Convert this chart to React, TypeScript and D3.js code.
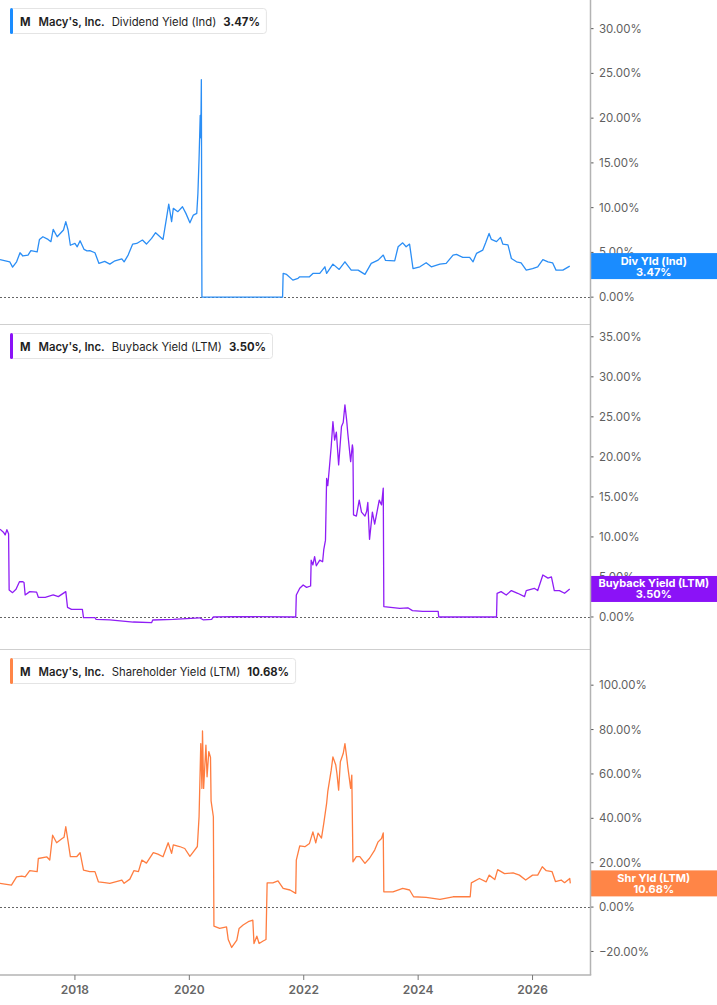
import React, { useEffect, useRef } from 'react';
import * as d3 from 'd3';

type Pt = [number, number];

const YEAR_TICKS = [2018, 2020, 2022, 2024, 2026];
const DIV_TICKS = [0, 5, 10, 15, 20, 25, 30];
const BUY_TICKS = [0, 5, 10, 15, 20, 25, 30, 35];
const SHR_TICKS = [-20, 0, 20, 40, 60, 80, 100];

// [decimal year, yield %]
const DIVIDEND_YIELD: Pt[] = [
  [2016.69, 4.2], [2016.86, 3.95], [2016.91, 3.35], [2016.98, 3.95], [2017.04, 4.96], [2017.09, 4.6],
  [2017.18, 4.7], [2017.23, 5.2], [2017.34, 5.07], [2017.38, 6.45], [2017.44, 6.75], [2017.53, 6.45],
  [2017.58, 6.2], [2017.62, 7.57], [2017.69, 6.75], [2017.8, 7.5], [2017.84, 8.43], [2017.88, 7.5],
  [2017.92, 5.8], [2018.0, 6.0], [2018.04, 5.63], [2018.09, 6.3], [2018.16, 5.33], [2018.21, 5.18],
  [2018.26, 5.2], [2018.35, 4.96], [2018.42, 3.77], [2018.52, 4.0], [2018.61, 3.69], [2018.7, 4.06],
  [2018.82, 4.28], [2018.86, 3.95], [2018.93, 4.7], [2019.01, 5.93], [2019.08, 6.0], [2019.18, 6.38],
  [2019.25, 5.93], [2019.34, 6.56], [2019.41, 7.2], [2019.54, 6.45], [2019.6, 8.8], [2019.64, 10.4],
  [2019.69, 8.43], [2019.72, 9.92], [2019.8, 9.55], [2019.88, 10.1], [2019.94, 9.36], [2020.01, 8.3],
  [2020.07, 9.17], [2020.13, 9.36], [2020.15, 11.6], [2020.17, 15.5], [2020.19, 20.3], [2020.2, 17.8],
  [2020.21, 24.3], [2020.22, 0], [2021.63, 0], [2021.64, 2.65], [2021.7, 2.54], [2021.81, 1.9],
  [2021.9, 2.1], [2021.93, 2.27], [2022.1, 2.27], [2022.16, 2.65], [2022.28, 2.65], [2022.37, 3.39],
  [2022.4, 2.65], [2022.51, 3.69], [2022.62, 3.1], [2022.72, 3.95], [2022.83, 3.02], [2022.95, 3.02],
  [2023.07, 2.54], [2023.18, 3.77], [2023.3, 4.14], [2023.39, 4.7], [2023.43, 4.1], [2023.59, 4.06],
  [2023.65, 5.63], [2023.73, 6.07], [2023.79, 5.63], [2023.85, 5.93], [2023.91, 3.2], [2024.03, 3.39],
  [2024.14, 3.84], [2024.23, 3.39], [2024.38, 3.69], [2024.49, 3.77], [2024.61, 4.7], [2024.67, 4.77],
  [2024.78, 4.44], [2024.9, 4.44], [2024.96, 3.95], [2025.02, 4.89], [2025.13, 5.26], [2025.18, 6.07],
  [2025.24, 7.12], [2025.28, 6.45], [2025.37, 6.2], [2025.44, 6.68], [2025.48, 5.93], [2025.57, 5.85],
  [2025.63, 4.32], [2025.72, 3.95], [2025.8, 3.84], [2025.89, 3.02], [2026.0, 3.2], [2026.09, 3.39],
  [2026.18, 4.2], [2026.27, 3.95], [2026.35, 3.84], [2026.41, 3.02], [2026.53, 3.02], [2026.59, 3.24],
  [2026.65, 3.47],
];

const BUYBACK_YIELD: Pt[] = [
  [2016.69, 10.96], [2016.75, 10.6], [2016.78, 10.25], [2016.81, 10.9], [2016.84, 10.4], [2016.85, 3.37],
  [2016.91, 3.04], [2016.97, 3.46], [2017.03, 4.4], [2017.09, 4.4], [2017.11, 4.3], [2017.13, 2.75],
  [2017.21, 3.17], [2017.33, 3.1], [2017.36, 2.46], [2017.48, 2.46], [2017.62, 2.75], [2017.71, 2.54],
  [2017.84, 3.17], [2017.87, 1.21], [2017.94, 0.96], [2018.13, 0.96], [2018.15, -0.08], [2018.35, -0.08],
  [2018.37, -0.3], [2018.61, -0.35], [2019.02, -0.63], [2019.34, -0.71], [2019.36, -0.38], [2019.72, -0.3],
  [2020.18, -0.1], [2020.24, -0.35], [2020.39, -0.3], [2020.42, 0.0], [2020.76, 0.05], [2021.86, 0.0],
  [2021.87, 2.75], [2021.93, 3.58], [2021.99, 4.0], [2022.05, 3.7], [2022.12, 3.87], [2022.13, 7.1],
  [2022.16, 6.5], [2022.19, 7.54], [2022.22, 6.4], [2022.28, 7.1], [2022.33, 6.9], [2022.35, 8.4],
  [2022.38, 9.6], [2022.4, 17.3], [2022.42, 16.4], [2022.45, 18.8], [2022.48, 21.3], [2022.51, 24.4],
  [2022.54, 22.1], [2022.57, 23.1], [2022.61, 19.0], [2022.66, 23.8], [2022.69, 24.3], [2022.72, 26.5],
  [2022.75, 24.6], [2022.77, 22.96], [2022.82, 19.4], [2022.85, 21.5], [2022.86, 21.0], [2022.87, 12.75],
  [2022.92, 12.6], [2022.97, 14.6], [2023.01, 13.1], [2023.07, 12.6], [2023.1, 13.2], [2023.12, 14.3],
  [2023.15, 9.7], [2023.2, 13.1], [2023.24, 11.6], [2023.28, 13.1], [2023.32, 14.6], [2023.36, 14.0],
  [2023.39, 16.1], [2023.4, 1.3], [2023.68, 1.08], [2023.82, 1.15], [2023.9, 0.8], [2024.08, 0.7],
  [2024.35, 0.7], [2024.36, 0], [2025.37, 0], [2025.38, 2.96], [2025.45, 3.17], [2025.54, 2.75],
  [2025.63, 3.3], [2025.74, 2.96], [2025.86, 2.54], [2025.89, 3.3], [2026.03, 3.58], [2026.09, 3.3],
  [2026.18, 5.25], [2026.27, 4.85], [2026.33, 5.0], [2026.38, 3.3], [2026.47, 3.3], [2026.56, 2.96],
  [2026.65, 3.5],
];

const SHAREHOLDER_YIELD: Pt[] = [
  [2016.69, 10.7], [2016.89, 9.9], [2016.98, 13.6], [2017.07, 14.0], [2017.13, 13.6], [2017.21, 16.4],
  [2017.34, 16.0], [2017.36, 21.9], [2017.51, 22.6], [2017.56, 21.2], [2017.61, 32.4], [2017.68, 29.0],
  [2017.77, 30.8], [2017.81, 31.5], [2017.84, 36.2], [2017.88, 29.6], [2017.92, 22.7], [2018.03, 22.7],
  [2018.09, 24.5], [2018.15, 16.7], [2018.26, 16.0], [2018.35, 16.0], [2018.41, 11.4], [2018.52, 11.0],
  [2018.61, 10.7], [2018.82, 12.2], [2018.86, 10.7], [2018.96, 12.6], [2019.03, 16.4], [2019.11, 16.0],
  [2019.17, 21.2], [2019.25, 19.8], [2019.37, 24.5], [2019.45, 23.9], [2019.54, 22.7], [2019.63, 29.0],
  [2019.69, 24.2], [2019.72, 28.0], [2019.83, 27.3], [2019.92, 26.4], [2020.01, 22.9], [2020.07, 24.9],
  [2020.14, 27.3], [2020.17, 40.7], [2020.2, 73.7], [2020.22, 53.5], [2020.23, 79.4], [2020.25, 53.5],
  [2020.29, 73.0], [2020.31, 58.7], [2020.34, 70.1], [2020.37, 67.4], [2020.38, 47.9], [2020.42, 40.7],
  [2020.43, -8.6], [2020.53, -9.6], [2020.65, -8.9], [2020.68, -14.6], [2020.74, -18.2], [2020.79, -16.4],
  [2020.83, -14.9], [2020.87, -9.6], [2020.94, -8.1], [2021.03, -6.6], [2021.11, -5.9], [2021.13, -16.4],
  [2021.18, -13.1], [2021.22, -16.4], [2021.29, -15.3], [2021.34, -14.6], [2021.36, 10.9], [2021.46, 10.9],
  [2021.55, 11.8], [2021.64, 8.4], [2021.76, 7.7], [2021.86, 6.2], [2021.87, 21.2], [2021.93, 27.6],
  [2022.02, 27.2], [2022.1, 28.7], [2022.16, 33.9], [2022.21, 28.9], [2022.25, 33.3], [2022.31, 31.1],
  [2022.35, 37.7], [2022.4, 46.7], [2022.42, 52.0], [2022.48, 61.7], [2022.51, 67.7], [2022.56, 64.0],
  [2022.58, 60.2], [2022.61, 52.7], [2022.64, 65.5], [2022.69, 69.2], [2022.72, 73.7], [2022.75, 67.7],
  [2022.77, 63.2], [2022.82, 53.5], [2022.84, 59.5], [2022.86, 20.4], [2022.92, 22.7], [2022.98, 22.7],
  [2023.07, 19.7], [2023.15, 22.0], [2023.24, 25.7], [2023.3, 29.4], [2023.36, 30.9], [2023.39, 33.4],
  [2023.4, 6.9], [2023.56, 6.9], [2023.73, 8.4], [2023.85, 7.7], [2023.92, 4.65], [2024.14, 4.35],
  [2024.38, 3.5], [2024.61, 4.65], [2024.91, 4.65], [2024.93, 10.9], [2025.07, 12.9], [2025.19, 11.4],
  [2025.24, 14.4], [2025.34, 12.4], [2025.39, 16.9], [2025.51, 15.1], [2025.66, 15.4], [2025.77, 14.4],
  [2025.88, 12.2], [2026.0, 14.4], [2026.09, 14.4], [2026.17, 18.2], [2026.24, 16.4], [2026.34, 16.0],
  [2026.4, 11.5], [2026.5, 12.2], [2026.56, 11.0], [2026.65, 12.9], [2026.66, 10.68],
];

const PANELS = [
  { metric: 'Dividend Yield (Ind)', badge: 'Div Yld (Ind)', last: '3.47%', color: '#1a8cff', line: '#2b8ef5', data: DIVIDEND_YIELD, ticks: DIV_TICKS, domain: [-3.0, 33.2], top: 0, bottom: 324 },
  { metric: 'Buyback Yield (LTM)', badge: 'Buyback Yield (LTM)', last: '3.50%', color: '#8b12f7', line: '#8f1df5', data: BUYBACK_YIELD, ticks: BUY_TICKS, domain: [-4.0, 36.6], top: 324, bottom: 649 },
  { metric: 'Shareholder Yield (LTM)', badge: 'Shr Yld (LTM)', last: '10.68%', color: '#ff8547', line: '#ff7d40', data: SHAREHOLDER_YIELD, ticks: SHR_TICKS, domain: [-30.6, 116.3], top: 649, bottom: 975 },
];

const W = 717;
const H = 1005;
const AXIS_X = 590.5;
const FONT = 'Inter, "Noto Sans", sans-serif';

export default function App() {
  const svgRef = useRef<SVGSVGElement>(null);

  useEffect(() => {
    document.body.style.margin = '0';
    if (!svgRef.current) return;
    const svg = d3.select(svgRef.current);
    svg.selectAll('*').remove();

    const x = d3.scaleLinear().domain([2016.69, 2027.013]).range([0, AXIS_X]);

    PANELS.forEach((p, i) => {
      const y = d3.scaleLinear().domain(p.domain).range([p.bottom, p.top]);
      const g = svg.append('g');

      if (i > 0) {
        g.append('line')
          .attr('x1', 0).attr('x2', AXIS_X)
          .attr('y1', p.top + 0.5).attr('y2', p.top + 0.5)
          .attr('stroke', '#cfcfcf').attr('stroke-width', 1);
      }

      // zero line
      g.append('line')
        .attr('x1', 0).attr('x2', AXIS_X)
        .attr('y1', Math.round(y(0)) + 0.5).attr('y2', Math.round(y(0)) + 0.5)
        .attr('stroke', '#666').attr('stroke-width', 1)
        .attr('stroke-dasharray', '2,2');

      const line = d3.line<Pt>().x(d => x(d[0])).y(d => y(d[1]));
      g.append('path')
        .datum(p.data)
        .attr('fill', 'none')
        .attr('stroke', p.line)
        .attr('stroke-width', 1.3)
        .attr('stroke-linejoin', 'round')
        .attr('d', line);

      // right axis ticks + labels
      p.ticks.forEach(t => {
        const ty = y(t);
        g.append('line')
          .attr('x1', AXIS_X).attr('x2', AXIS_X + 3)
          .attr('y1', ty).attr('y2', ty)
          .attr('stroke', '#555').attr('stroke-width', 1);
        g.append('text')
          .attr('x', 599).attr('y', ty)
          .attr('dy', '0.35em')
          .style('font-family', FONT)
          .style('font-size', '11.5px')
          .attr('fill', '#5f5f5f')
          .text(d3.format('.2f')(t) + '%');
      });

      // end-value badge
      const last = p.data[p.data.length - 1];
      const by = y(last[1]);
      g.append('rect')
        .attr('x', AXIS_X).attr('y', by - 13)
        .attr('width', W - AXIS_X).attr('height', 26)
        .attr('fill', p.color);
      const cx = (AXIS_X + W) / 2;
      g.append('text')
        .attr('x', cx).attr('y', by - 1.5)
        .attr('text-anchor', 'middle')
        .style('font-family', FONT).style('font-size', '11px').style('font-weight', 700)
        .attr('fill', '#fff')
        .text(p.badge);
      g.append('text')
        .attr('x', cx).attr('y', by + 9.5)
        .attr('text-anchor', 'middle')
        .style('font-family', FONT).style('font-size', '11px').style('font-weight', 700)
        .attr('fill', '#fff')
        .text(p.last);

      // legend
      const lg = g.append('g').attr('transform', `translate(10,${p.top + 8 + (i > 0 ? 1 : 0)})`);
      const box = lg.append('rect')
        .attr('x', 0.5).attr('y', 0.5).attr('height', 25).attr('rx', 3)
        .attr('fill', '#fff').attr('stroke', '#e4e4e4');
      lg.append('rect')
        .attr('x', 0).attr('y', 0).attr('width', 3).attr('height', 26).attr('rx', 1.5)
        .attr('fill', p.color);
      const txt = lg.append('text')
        .attr('x', 10).attr('y', 17.5)
        .style('font-family', FONT).style('font-size', '11.3px')
        .attr('fill', '#1f1f1f');
      txt.append('tspan').style('font-weight', 700).text('M');
      txt.append('tspan').attr('dx', 8).style('font-weight', 600).text("Macy's, Inc.");
      txt.append('tspan').attr('dx', 7).style('font-weight', 400).text(p.metric);
      txt.append('tspan').attr('dx', 7).style('font-weight', 700).text(p.last);
      const bb = (txt.node() as SVGTextElement).getBBox();
      box.attr('width', bb.x + bb.width + 6);
    });

    // right axis line
    svg.append('line')
      .attr('x1', AXIS_X).attr('x2', AXIS_X)
      .attr('y1', 0).attr('y2', 975)
      .attr('stroke', '#b3b3b3').attr('stroke-width', 1.5);

    // bottom axis
    svg.append('line')
      .attr('x1', 0).attr('x2', AXIS_X + 0.75)
      .attr('y1', 975).attr('y2', 975)
      .attr('stroke', '#b3b3b3').attr('stroke-width', 1.5);
    YEAR_TICKS.forEach(t => {
      svg.append('line')
        .attr('x1', x(t)).attr('x2', x(t))
        .attr('y1', 975).attr('y2', 980)
        .attr('stroke', '#777').attr('stroke-width', 1);
      svg.append('text')
        .attr('x', x(t)).attr('y', 994)
        .attr('text-anchor', 'middle')
        .style('font-family', FONT).style('font-size', '12px').style('font-weight', 600)
        .attr('fill', '#666')
        .text(d3.format('d')(t));
    });
  }, []);

  return <svg ref={svgRef} width={W} height={H} style={{ display: 'block', background: '#fff' }} />;
}
